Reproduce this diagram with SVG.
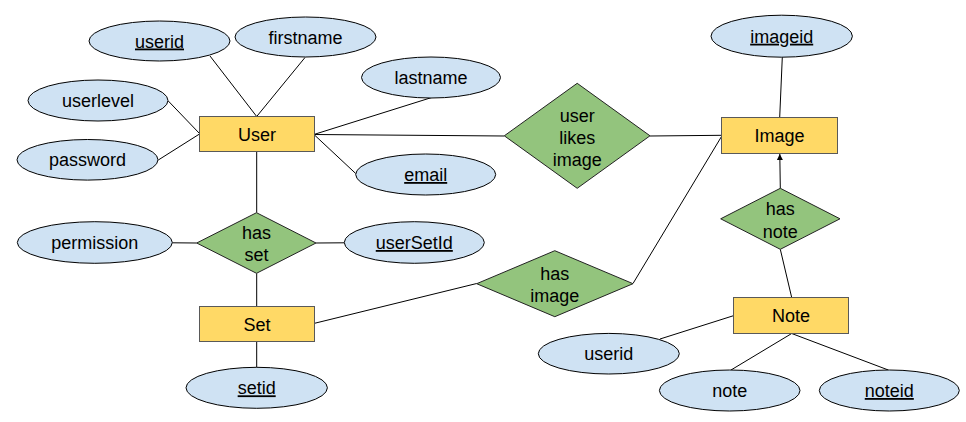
<svg xmlns="http://www.w3.org/2000/svg" width="966" height="422" viewBox="0 0 966 422">
<style>
.attr{fill:#cfe2f3;stroke:#000;stroke-width:1}
.ent{fill:#ffd966;stroke:#595959;stroke-width:1}
.rel{fill:#93c47d;stroke:#222;stroke-width:1}
.ln{stroke:#000;stroke-width:1;fill:none}
text{font-family:"Liberation Sans",Arial,sans-serif;font-size:18px;fill:#000;text-anchor:middle}
.key{text-decoration:underline}
</style>
<defs>
<marker id="arr" viewBox="0 0 6 8" refX="6" refY="4" markerWidth="6" markerHeight="8" markerUnits="userSpaceOnUse" orient="auto">
<path d="M0,1 L6,4 L0,7 z" fill="#000"/>
</marker>
</defs>
<rect width="966" height="422" fill="#fff"/>
<g id="connectors">
<line class="ln" x1="210" y1="56" x2="256.7" y2="116.5"/>
<line class="ln" x1="305" y1="57.5" x2="256.7" y2="116.5"/>
<line class="ln" x1="431.7" y1="97.5" x2="314.5" y2="134.3"/>
<line class="ln" x1="168.3" y1="101" x2="199.5" y2="133.5"/>
<line class="ln" x1="158.3" y1="160" x2="199.5" y2="134"/>
<line class="ln" x1="314.5" y1="135" x2="355.7" y2="173.5"/>
<line class="ln" x1="314.5" y1="134.5" x2="504.3" y2="136"/>
<line class="ln" x1="256.7" y1="151.5" x2="256.7" y2="212.7"/>
<line class="ln" x1="256.7" y1="273.3" x2="256.7" y2="306.5"/>
<line class="ln" x1="172.3" y1="242.8" x2="196.7" y2="243"/>
<line class="ln" x1="316" y1="243" x2="344.3" y2="242.8"/>
<line class="ln" x1="256.7" y1="341.5" x2="256.7" y2="367.3"/>
<line class="ln" x1="314.5" y1="323.3" x2="476.7" y2="283.5"/>
<line class="ln" x1="782.3" y1="57.2" x2="779.7" y2="117.5"/>
<line class="ln" x1="650" y1="136" x2="721.5" y2="135.3"/>
<line class="ln" x1="721.5" y1="136.5" x2="633" y2="283.5"/>
<line class="ln" x1="780.3" y1="188.3" x2="779.8" y2="154" marker-end="url(#arr)"/>
<line class="ln" x1="780.3" y1="249.3" x2="791.7" y2="297.5"/>
<line class="ln" x1="660" y1="339" x2="733.5" y2="315.7"/>
<line class="ln" x1="791.7" y1="333.5" x2="731" y2="370"/>
<line class="ln" x1="791.7" y1="333.5" x2="888.3" y2="370"/>
</g>
<g id="User"><rect class="ent" x="199.5" y="116.5" width="115" height="35"/><text x="257" y="140.5">User</text></g>
<g id="Set"><rect class="ent" x="199.5" y="306.5" width="115" height="35"/><text x="257" y="330.5">Set</text></g>
<g id="Image"><rect class="ent" x="721.5" y="117.5" width="116" height="36"/><text x="779.5" y="142">Image</text></g>
<g id="Note"><rect class="ent" x="733.5" y="297.5" width="115" height="36"/><text x="791" y="322">Note</text></g>
<g id="attr-userid"><ellipse class="attr" cx="159.5" cy="41" rx="70.5" ry="20"/><text class="key" x="159.5" y="47.5">userid</text></g>
<g id="attr-firstname"><ellipse class="attr" cx="305.5" cy="37" rx="70.5" ry="20"/><text x="305.5" y="43.5">firstname</text></g>
<g id="attr-lastname"><ellipse class="attr" cx="431" cy="77.5" rx="69.5" ry="20.5"/><text x="431" y="84">lastname</text></g>
<g id="attr-userlevel"><ellipse class="attr" cx="98" cy="100.5" rx="70" ry="20.5"/><text x="98" y="107">userlevel</text></g>
<g id="attr-password"><ellipse class="attr" cx="87.5" cy="159.8" rx="70.5" ry="20.3"/><text x="87.5" y="166.3">password</text></g>
<g id="attr-email"><ellipse class="attr" cx="425.7" cy="174.5" rx="70" ry="20.5"/><text class="key" x="425.7" y="181">email</text></g>
<g id="attr-permission"><ellipse class="attr" cx="94.8" cy="242.5" rx="77.5" ry="20.8"/><text x="94.8" y="249">permission</text></g>
<g id="attr-userSetId"><ellipse class="attr" cx="414.3" cy="242.5" rx="70" ry="20.8"/><text class="key" x="414.3" y="249">userSetId</text></g>
<g id="attr-setid"><ellipse class="attr" cx="256.7" cy="387.8" rx="70.7" ry="20.5"/><text class="key" x="256.7" y="394.3">setid</text></g>
<g id="attr-imageid"><ellipse class="attr" cx="781.7" cy="36.2" rx="70.7" ry="21"/><text class="key" x="781.7" y="42.7">imageid</text></g>
<g id="attr-note-userid"><ellipse class="attr" cx="608.8" cy="353.7" rx="70.5" ry="20.3"/><text x="608.8" y="360.2">userid</text></g>
<g id="attr-note"><ellipse class="attr" cx="729.7" cy="390.5" rx="70.3" ry="20.5"/><text x="729.7" y="397">note</text></g>
<g id="attr-noteid"><ellipse class="attr" cx="889.3" cy="390.5" rx="70" ry="20.5"/><text class="key" x="889.3" y="397">noteid</text></g>
<g id="rel-user-likes-image"><polygon class="rel" points="577.2,83.3 650,135.8 577.2,188.3 504.3,135.8"/><text x="577.2" y="122">user</text><text x="577.2" y="143.5">likes</text><text x="577.2" y="165.5">image</text></g>
<g id="rel-has-set"><polygon class="rel" points="256.5,212.7 316,243 256.5,273.3 196.7,243"/><text x="256.5" y="238.5">has</text><text x="256.5" y="260.5">set</text></g>
<g id="rel-has-image"><polygon class="rel" points="554.8,250.7 633,283.7 554.8,316.7 476.7,283.7"/><text x="554.8" y="279.5">has</text><text x="554.8" y="301.5">image</text></g>
<g id="rel-has-note"><polygon class="rel" points="780.3,188.3 840,218.8 780.3,249.3 720.7,218.8"/><text x="780.3" y="215">has</text><text x="780.3" y="237.5">note</text></g>
</svg>
